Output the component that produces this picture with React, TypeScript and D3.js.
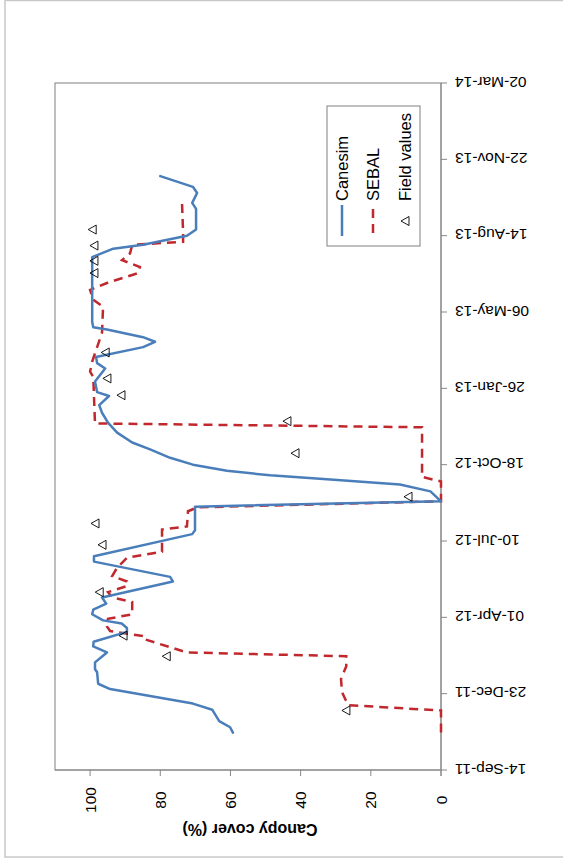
import React from "react";
import * as d3 from "d3";

// Date axis tick labels (every 100 days)
const dateTickLabels = [
  "14-Sep-11", "23-Dec-11", "01-Apr-12", "10-Jul-12", "18-Oct-12",
  "26-Jan-13", "06-May-13", "14-Aug-13", "22-Nov-13", "02-Mar-14",
];
const valueTicks = [0, 20, 40, 60, 80, 100];

const canesimDates = [
  "2011-11-02", "2011-11-09", "2011-11-17", "2011-12-02", "2011-12-10", "2011-12-29",
  "2012-01-05", "2012-01-20", "2012-01-24", "2012-02-02", "2012-02-15", "2012-02-23",
  "2012-02-29", "2012-03-13", "2012-03-18", "2012-03-24", "2012-03-28", "2012-04-05",
  "2012-04-11", "2012-04-19", "2012-04-27", "2012-05-18", "2012-05-24", "2012-06-13",
  "2012-06-20", "2012-07-19", "2012-07-24", "2012-08-24", "2012-08-31", "2012-09-13",
  "2012-09-22", "2012-09-29", "2012-10-04", "2012-10-10", "2012-10-18", "2012-10-27",
  "2012-11-07", "2012-11-16", "2012-11-29", "2012-12-12", "2012-12-25", "2013-01-04",
  "2013-01-16", "2013-01-21", "2013-02-04", "2013-02-21", "2013-02-28", "2013-03-08",
  "2013-03-21", "2013-03-28", "2013-04-03", "2013-04-13", "2013-04-16", "2013-04-23",
  "2013-07-17", "2013-07-28", "2013-08-02", "2013-08-14", "2013-08-22", "2013-09-18",
  "2013-09-26", "2013-10-09", "2013-10-17", "2013-10-31",
];
const canesimValues = [
  59.3, 60.1, 63.2, 65.2, 70.7, 94.3,
  97.7, 98.0, 98.6, 98.6, 95.2, 99.1,
  99.0, 89.5, 89.5, 91.0, 96.3, 99.4,
  99.1, 95.4, 96.6, 76.4, 77.2, 98.9,
  98.9, 70.9, 70.1, 70.1, 0, 3,
  11.7, 32.5, 48.7, 61, 70.7, 77.2,
  82.9, 88, 92.3, 94.9, 96.6, 97.4,
  94.6, 98, 98.6, 95.7, 98, 98.3,
  84.9, 81.5, 84.9, 95.2, 99.1, 99.4,
  99.4, 93.4, 84.9, 72.4, 69.8, 69.8,
  70.9, 69.5, 70.7, 80,
];

const sebalDates = [
  "2011-11-02", "2011-12-01", "2011-12-08", "2011-12-25", "2012-01-11", "2012-01-28",
  "2012-02-10", "2012-02-15", "2012-03-03", "2012-03-07", "2012-03-14", "2012-03-20",
  "2012-03-30", "2012-04-05", "2012-04-21", "2012-04-27", "2012-05-04", "2012-05-12",
  "2012-05-18", "2012-05-25", "2012-06-05", "2012-06-18", "2012-06-26", "2012-07-25",
  "2012-07-29", "2012-08-18", "2012-08-23", "2012-08-31", "2012-09-26", "2012-10-02",
  "2012-12-06", "2012-12-11", "2013-02-10", "2013-02-17", "2013-03-02", "2013-04-09",
  "2013-05-13", "2013-05-22", "2013-06-04", "2013-06-13", "2013-06-26", "2013-07-04",
  "2013-07-13", "2013-07-22", "2013-08-02", "2013-08-06", "2013-08-18", "2013-09-26",
];
const sebalValues = [
  0, 0, 26.5, 28.2, 28.5, 27,
  27, 72.4, 84.3, 84.3, 94.3, 95.2,
  94.9, 88, 88, 93.7, 94.9, 89.5,
  89.5, 93.7, 92.3, 89.5, 79.5, 79.5,
  72.4, 72.1, 69.5, 0, 0, 5.4,
  5.4, 98.6, 99.1, 100, 99.4, 96.6,
  96.3, 99.1, 100, 95.2, 86.3, 85.8,
  90.9, 88.6, 88, 73.5, 73.5, 73.8,
];

const fieldDates = [
  "2011-12-01", "2012-02-10", "2012-03-08", "2012-05-04", "2012-07-05", "2012-08-02",
  "2012-09-06", "2012-11-02", "2012-12-14", "2013-01-17", "2013-02-08", "2013-03-14",
  "2013-06-26", "2013-07-12", "2013-08-01", "2013-08-22",
];
const fieldValues = [
  27.1, 78.3, 90.6, 97.4, 96.6, 98.6,
  9.4, 41.6, 43.9, 91.2, 95.2, 95.7,
  98.9, 98.9, 98.9, 99.4,
];

const seriesNames = ["Canesim", "SEBAL", "Field values"];

const FONT = "'Liberation Sans', Arial, sans-serif";
const BLUE = "#4A7EBB";
const RED = "#C0282D";

export default function App() {
  const W = 563;
  const H = 865;
  const parse = d3.timeParse("%Y-%m-%d");
  const parseTick = d3.timeParse("%d-%b-%y");
  const tickDates = dateTickLabels.map((s) => parseTick(s) as Date);

  const plotTop = 83;
  const plotBottom = 770;
  const plotLeft = 55;
  const plotRight = 441;

  const y = d3
    .scaleTime()
    .domain([tickDates[0], tickDates[tickDates.length - 1]])
    .range([plotBottom, plotTop]);
  const x = d3.scaleLinear().domain([0, 110]).range([plotRight, plotLeft]);

  const line = d3
    .line<[Date, number]>()
    .x((d) => x(d[1]))
    .y((d) => y(d[0]));

  const canesim: [Date, number][] = canesimDates.map((d, i) => [parse(d) as Date, canesimValues[i]]);
  const sebal: [Date, number][] = sebalDates.map((d, i) => [parse(d) as Date, sebalValues[i]]);
  const field: [Date, number][] = fieldDates.map((d, i) => [parse(d) as Date, fieldValues[i]]);

  const tri = (cx: number, cy: number) =>
    `M${cx - 4},${cy} L${cx + 4},${cy - 4.5} L${cx + 4},${cy + 4.5} Z`;

  return (
    <svg
      width={W}
      height={H}
      style={{ position: "absolute", left: 0, top: 0, background: "#fff" }}
      fontFamily={FONT}
    >
      {/* chart area border */}
      <rect x={5} y={0.5} width={W + 10} height={856.5} fill="#fff" stroke="#c8c8c8" strokeWidth={1.5} />

      {/* plot area border */}
      <rect
        x={plotLeft}
        y={plotTop}
        width={plotRight - plotLeft}
        height={plotBottom - plotTop}
        fill="none"
        stroke="#808080"
        strokeWidth={1}
      />

      {/* value axis (bottom) */}
      <line x1={plotLeft} x2={plotRight} y1={plotBottom} y2={plotBottom} stroke="#868686" />
      {valueTicks.map((v) => (
        <g key={v}>
          <line x1={x(v)} x2={x(v)} y1={plotBottom} y2={plotBottom + 6} stroke="#868686" />
          <text
            transform={`translate(${x(v)},800) rotate(-90)`}
            textAnchor="middle"
            dominantBaseline="central"
            fontSize={15.5}
            fill="#000"
          >
            {v}
          </text>
        </g>
      ))}
      <text
        transform={`translate(${(plotLeft + plotRight) / 2 + 2},829) rotate(180)`}
        textAnchor="middle"
        dominantBaseline="central"
        fontSize={16}
        fontWeight="bold"
        fill="#000"
      >
        Canopy cover (%)
      </text>

      {/* date axis (right) */}
      <line x1={plotRight} x2={plotRight} y1={plotTop} y2={plotBottom + 6} stroke="#868686" />
      {tickDates.map((d, i) => (
        <g key={dateTickLabels[i]}>
          <line x1={plotRight} x2={plotRight + 6} y1={y(d)} y2={y(d)} stroke="#868686" />
          <text
            transform={`translate(455,${y(d) - 1}) rotate(180)`}
            textAnchor="end"
            dominantBaseline="central"
            fontSize={15.5}
            fill="#000"
          >
            {dateTickLabels[i]}
          </text>
        </g>
      ))}

      {/* series */}
      <path d={line(sebal) || ""} fill="none" stroke={RED} strokeWidth={2.5} strokeDasharray="9,6" />
      <path
        d={line(canesim) || ""}
        fill="none"
        stroke={BLUE}
        strokeWidth={2.5}
        strokeLinejoin="round"
        strokeLinecap="round"
      />
      {field.map((d, i) => (
        <path key={i} d={tri(x(d[1]), y(d[0]))} fill="none" stroke="#000" strokeWidth={0.9} />
      ))}

      {/* legend */}
      <rect x={327} y={106} width={93} height={140} fill="#fff" stroke="#808080" strokeWidth={1} />
      <line x1={342} x2={342} y1={205} y2={236} stroke={BLUE} strokeWidth={2.5} />
      <text
        transform="translate(342,201) rotate(-90)"
        dominantBaseline="central"
        fontSize={16.5}
        fill="#000"
      >
        {seriesNames[0]}
      </text>
      <line x1={373} x2={373} y1={209} y2={238} stroke={RED} strokeWidth={2.5} strokeDasharray="9,6" />
      <text
        transform="translate(373,201) rotate(-90)"
        dominantBaseline="central"
        fontSize={16.5}
        fill="#000"
      >
        {seriesNames[1]}
      </text>
      <path d={tri(405, 221)} fill="none" stroke="#000" strokeWidth={0.9} />
      <text
        transform="translate(405,201) rotate(-90)"
        dominantBaseline="central"
        fontSize={16.5}
        fill="#000"
      >
        {seriesNames[2]}
      </text>
    </svg>
  );
}
